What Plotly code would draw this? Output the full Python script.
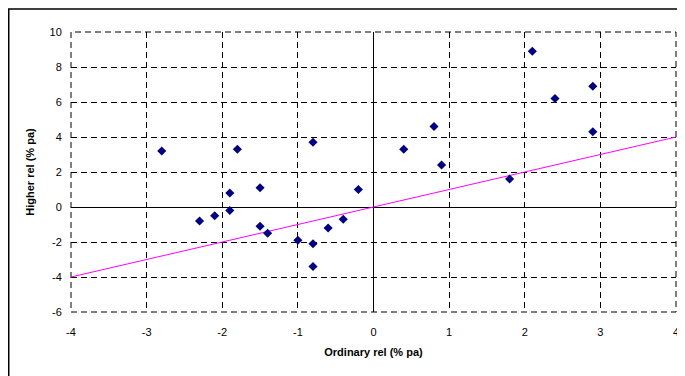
import plotly.graph_objects as go

ordinary = [-2.8, -1.8, -0.8, -1.9, -1.5, -0.2, -2.3, -2.1, -1.9, -1.5, -1.4, -1.0,
            -0.8, -0.6, -0.4, -0.8, 0.4, 0.8, 0.9, 1.8, 2.1, 2.4, 2.9, 2.9]
higher = [3.2, 3.3, 3.7, 0.8, 1.1, 1.0, -0.8, -0.5, -0.2, -1.1, -1.5, -1.9,
          -2.1, -1.2, -0.7, -3.4, 3.3, 4.6, 2.4, 1.6, 8.9, 6.2, 6.9, 4.3]
line_x = [-4, 4]
line_y = [-4, 4]
x_ticks = [-4, -3, -2, -1, 0, 1, 2, 3, 4]
y_ticks = [-6, -4, -2, 0, 2, 4, 6, 8, 10]
x_labels = [str(v) for v in x_ticks]
y_labels = [str(v) for v in y_ticks]

fig = go.Figure()
fig.add_trace(go.Scatter(x=line_x, y=line_y, mode="lines",
                         line=dict(color="#FF00FF", width=1), showlegend=False,
                         cliponaxis=False))
fig.add_trace(go.Scatter(x=ordinary, y=higher, mode="markers",
                         marker=dict(symbol="diamond", size=7, color="#000080"),
                         showlegend=False))

font = dict(family="Liberation Sans, Arial, sans-serif", size=11, color="black")
# page body has an 8px default margin, so margins are reduced by 8px
fig.update_layout(
    width=685, height=376,
    margin=dict(l=63, r=17, t=24, b=72),
    paper_bgcolor="white", plot_bgcolor="white",
    font=font,
    xaxis=dict(range=[-4.000001, 4.000001], tickvals=x_ticks, ticktext=x_labels,
               showgrid=True, gridcolor="black", automargin=False,
               griddash="6px,4px", gridwidth=1, zeroline=True, zerolinecolor="black",
               zerolinewidth=1, showline=False, ticks="outside", ticklen=10,
               tickcolor="rgba(0,0,0,0)",
               title=dict(text="<b>Ordinary rel (% pa)</b>", font=font, standoff=11)),
    yaxis=dict(range=[-6.000001, 10.000001], tickvals=y_ticks, ticktext=y_labels,
               showgrid=True, gridcolor="black", automargin=False,
               griddash="6px,4px", gridwidth=1, zeroline=True, zerolinecolor="black",
               zerolinewidth=1, showline=False, ticks="outside", ticklen=6,
               tickcolor="rgba(0,0,0,0)",
               title=dict(text="<b>Higher rel (% pa)</b>", font=font, standoff=12)),
    shapes=[
        dict(type="rect", xref="paper", yref="paper", x0=-0.1029, x1=1.05,
             y0=-0.3, y1=1.0821, line=dict(color="black", width=1.5), layer="below"),
        dict(type="rect", xref="paper", yref="paper", x0=0, x1=1, y0=0, y1=1,
             line=dict(color="black", width=1, dash="6px,4px"), layer="below"),
    ],
)
fig.write_html("out.html")
